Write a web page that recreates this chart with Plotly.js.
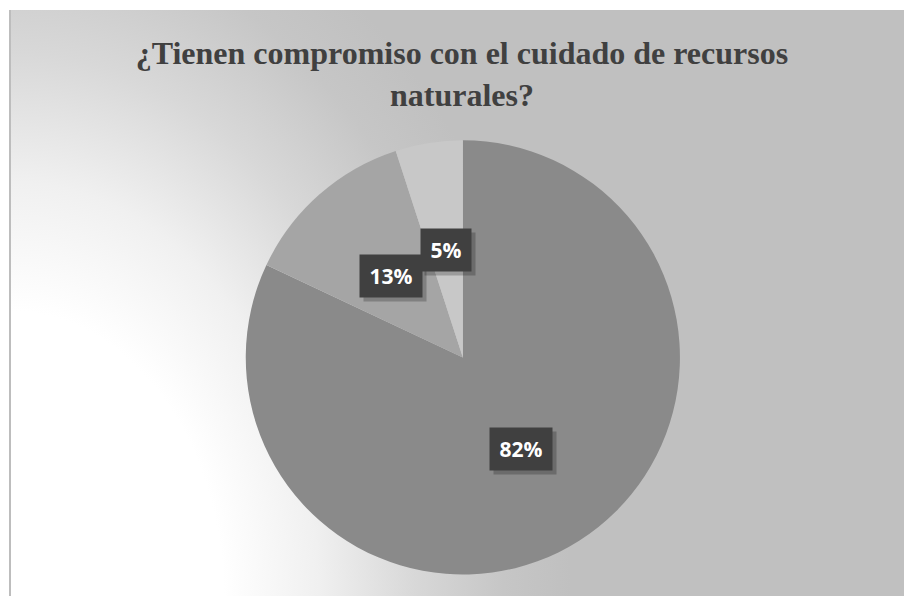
<!DOCTYPE html>
<html>
<head>
<meta charset="utf-8">
<script src="https://cdn.plot.ly/plotly-3.0.1.min.js"></script>
<style>
html,body{margin:0;padding:0;background:#fff;}
#wrap{position:relative;width:904px;height:596px;background:#fff;overflow:hidden;}
#bg{position:absolute;left:9px;top:10px;right:0;bottom:0;border-left:2px solid #bdbdbd;
background:radial-gradient(ellipse 560px 760px at 0px 590px,#ffffff 0%,#ffffff 38%,#f0f0f0 55%,#d8d8d8 72%,#c6c6c6 88%,#c0c0c0 100%);}
#chart{position:absolute;left:0;top:0;width:904px;height:596px;}
</style>
</head>
<body>
<div id="wrap"><div id="bg"></div><div id="chart"></div></div>
<script>
const categories = ["Sí", "A veces", "No"];
const values = [82, 13, 5];
const labelsText = ["82%", "13%", "5%"];
const sliceColors = ["#8a8a8a", "#a5a5a5", "#c8c8c8"];
const titleText = "¿Tienen compromiso con el cuidado de recursos<br>naturales?";

const W = 904, H = 596;
const dom = {x: [0.2705, 0.7535], y: [0.036, 0.7645]};
const cxp = (dom.x[0] + dom.x[1]) / 2 * W;
const cyp = (dom.y[0] + dom.y[1]) / 2 * H;
const rad = Math.min((dom.x[1]-dom.x[0]) * W, (dom.y[1]-dom.y[0]) * H) / 2;
const total = values.reduce((a, b) => a + b, 0);

const annotations = [];
let cum = 0;
values.forEach((v, i) => {
  const mid = (cum + v / 2) / total * 2 * Math.PI;
  cum += v;
  const px = cxp + 0.5 * rad * Math.sin(mid);
  const py = cyp + 0.5 * rad * Math.cos(mid);
  const bw = 12 * labelsText[i].length + 10;
  const base = {x: px / W, y: py / H, xref: 'paper', yref: 'paper', showarrow: false,
    borderpad: 8, width: bw, height: 26, xanchor: 'center', yanchor: 'middle'};
  annotations.push(Object.assign({}, base, {text: ' ', xshift: 4, yshift: -4, bgcolor: 'rgba(0,0,0,0.22)',
    font: {family: 'Open Sans, sans-serif', size: 21, color: 'rgba(0,0,0,0)'}}));
  annotations.push(Object.assign({}, base, {text: '<b>' + labelsText[i] + '</b>', bgcolor: '#404040',
    font: {family: 'Open Sans, sans-serif', size: 21, color: '#ffffff'}}));
});

const data = [{
  type: 'pie',
  labels: categories,
  values: values,
  sort: false,
  direction: 'clockwise',
  rotation: 0,
  marker: {colors: sliceColors, line: {width: 0}},
  textinfo: 'none',
  hoverinfo: 'none',
  showlegend: false,
  domain: dom
}];

const layout = {
  width: W, height: H,
  margin: {l: 0, r: 0, t: 0, b: 0},
  paper_bgcolor: 'rgba(0,0,0,0)',
  plot_bgcolor: 'rgba(0,0,0,0)',
  title: {text: '<b>' + titleText + '</b>', x: 0.511, xanchor: 'center', y: 0.892, yanchor: 'top',
    font: {family: 'Liberation Serif, Times New Roman, serif', size: 32, color: '#404040'}},
  annotations: annotations,
  showlegend: false
};

Plotly.newPlot('chart', data, layout, {displayModeBar: false, staticPlot: true});
</script>
</body>
</html>
